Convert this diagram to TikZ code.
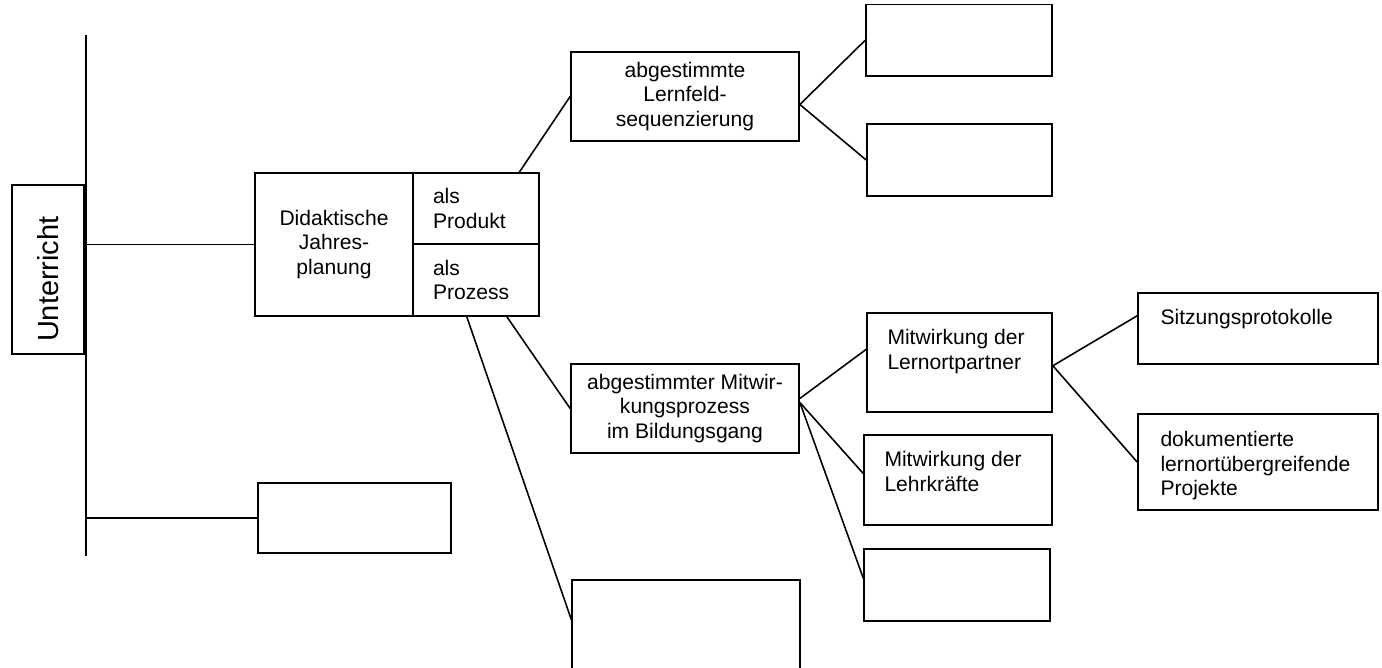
\documentclass[tikz,border=0pt]{standalone}
\usepackage{fontspec}
\setmainfont{Liberation Sans}
\usetikzlibrary{positioning}
\tikzset{box/.style = {draw, line width=1pt, inner sep=0pt, align=center,
                       font=\fontsize{12}{13.8}\selectfont},
         leer/.style = {draw, line width=0.75pt, inner sep=0pt},
         txt/.style = {inner sep=0pt, anchor=north west, align=left,
                       font=\fontsize{12}{13.8}\selectfont},
         ast/.style = {line width=0.9pt}}

\begin{document}
\begin{tikzpicture}[x=0.02cm, y=-0.02cm]
\useasboundingbox (0,0) rectangle (1382,668);
% Stamm
\coordinate (oben) at (86,35);
\coordinate (unten) at (86,556);
\draw[ast] (oben) -- (unten);
\node[box, rotate=90, minimum width=3.38cm, minimum height=1.44cm, text width=2.9cm,
      inner xsep=0.24cm, align=left, font=\fontsize{16.5}{19}\selectfont] (unt) at (48,269.5) {Unterricht};
% Jahresplanung
\node[box, minimum width=3.16cm, minimum height=2.86cm] (jp) at (334,244.5) {Didaktische\\Jahres-\\planung};
\node[box, minimum width=2.52cm, minimum height=1.42cm, text width=1.72cm, inner xsep=0.4cm, align=left] (prod) at (476,208.5) {als\\Produkt};
\node[box, minimum width=2.52cm, minimum height=1.44cm, text width=1.72cm, inner xsep=0.4cm, align=left] (proz) at (476,280) {als\\Prozess};
\node[leer, minimum width=3.86cm, minimum height=1.4cm] (leer1) at (354.5,518) {};
\draw[ast] (jp.west) -- (jp.west -| unt.south);
\draw[ast] (leer1.west) -- (leer1.west -| oben);
% Produkt
\node[box, minimum width=4.56cm, minimum height=1.78cm] (lf) at (685,96.5) {abgestimmte\\Lernfeld-\\sequenzierung};
\node[box, minimum width=3.72cm, minimum height=1.43cm] (leer2) at (959,40.3) {};
\node[box, minimum width=3.7cm, minimum height=1.44cm] (leer3) at (959.5,160) {};
\draw[ast] (prod.40) -- (lf.west);
\draw[ast] (lf.-4) -- (leer2.west);
\draw[ast] (lf.-4) -- (leer3.west);
% Prozess
\node[box, minimum width=4.56cm, minimum height=1.78cm] (mw) at (685,408.5) {abgestimmter Mitwir-\\kungsprozess\\im Bildungsgang};
\node[leer, minimum width=4.56cm, minimum height=2.4cm] (leer4) at (686,640) {};
\draw[ast] (proz.-50) -- (mw.west);
\draw[ast] (proz.-104) -- (leer4.170);
\node[box, minimum width=3.7cm, minimum height=1.98cm] (lop) at (959.5,362.5) {};
\node[txt] (lopt) at ([xshift=0.42cm, yshift=-0.34cm]lop.north west) {Mitwirkung der\\Lernortpartner};
\node[box, minimum width=3.76cm, minimum height=1.8cm] (lk) at (958,480) {};
\node[txt] (lkt) at ([xshift=0.42cm, yshift=-0.34cm]lk.north west) {Mitwirkung der\\Lehrkräfte};
\node[leer, minimum width=3.72cm, minimum height=1.44cm] (leer5) at (957,585) {};
\draw[ast] (mw.5) -- (lop.172);
\draw[ast] (mw.3) -- (lk.176);
\draw[ast] (mw.3) -- (leer5.176);
% Lernortpartner
\node[box, minimum width=4.8cm, minimum height=1.42cm] (sitz) at (1258,328.5) {};
\node[txt] (sitzt) at ([xshift=0.46cm, yshift=-0.34cm]sitz.north west) {Sitzungsprotokolle};
\node[box, minimum width=4.8cm, minimum height=1.92cm] (dok) at (1258,462) {};
\node[txt] (dokt) at ([xshift=0.46cm, yshift=-0.36cm]dok.north west) {dokumentierte\\lernortübergreifende\\Projekte};
\draw[ast] (lop.-2) -- (sitz.174);
\draw[ast] (lop.-2) -- (dok.west);
\end{tikzpicture}
\end{document}
